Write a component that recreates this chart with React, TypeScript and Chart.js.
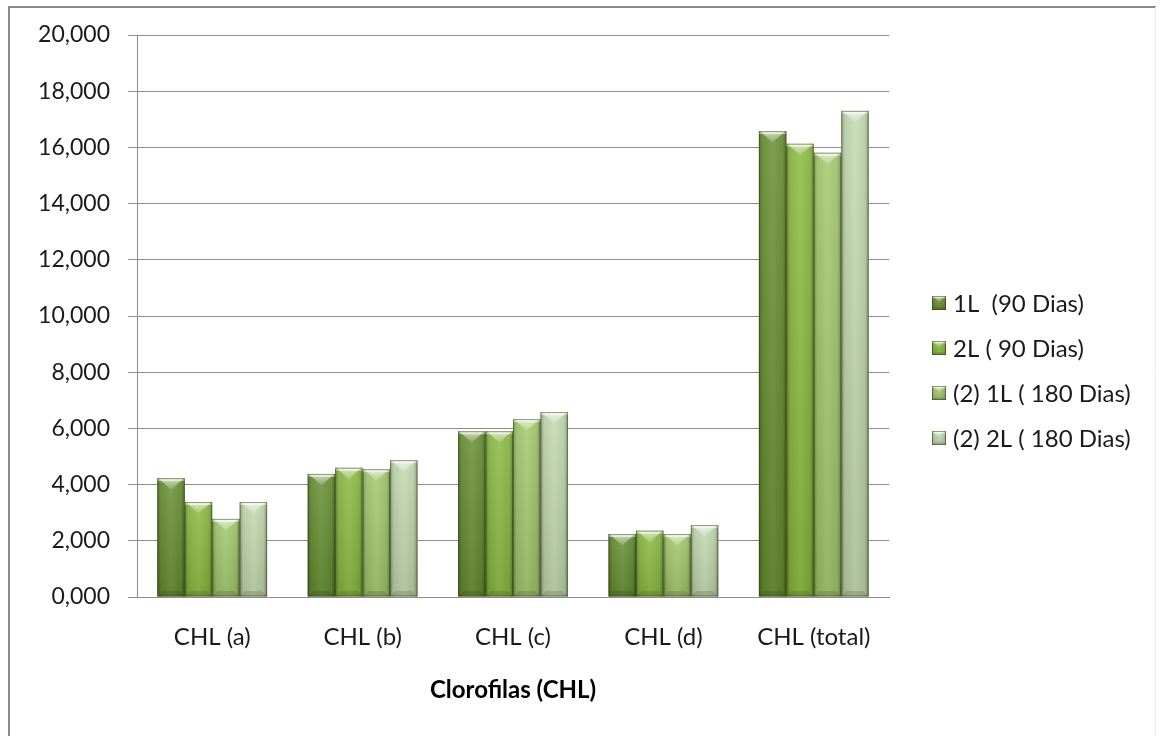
import React, { useEffect, useRef } from "react";
import { Chart, registerables } from "chart.js";

Chart.register(...registerables);

const categories = ["CHL (a)", "CHL (b)", "CHL (c)", "CHL (d)", "CHL (total)"];
const series1L90 = [4.23, 4.38, 5.9, 2.24, 16.58];
const series2L90 = [3.38, 4.6, 5.9, 2.36, 16.13];
const series1L180 = [2.78, 4.55, 6.33, 2.24, 15.81];
const series2L180 = [3.38, 4.87, 6.58, 2.56, 17.3];
const seriesLabels = ["1L  (90 Dias)", "2L ( 90 Dias)", "(2) 1L ( 180 Dias)", "(2) 2L ( 180 Dias)"];
const seriesColors = ["#668f30", "#8aba40", "#a3c86c", "#c2d9ad"];
const tickLabels = ["0,000", "2,000", "4,000", "6,000", "8,000", "10,000", "12,000", "14,000", "16,000", "18,000", "20,000"];
const axisTitle = "Clorofilas (CHL)";

const FONT = "Lato, 'Open Sans', sans-serif";

function drawBevel(ctx: CanvasRenderingContext2D, l: number, t: number, w: number, h: number) {
  const r = l + w;
  const b = t + h;
  const x = l + w / 2;
  // side shading
  const g = ctx.createLinearGradient(l, 0, r, 0);
  g.addColorStop(0, "rgba(0,0,0,0.30)");
  g.addColorStop(0.14, "rgba(0,0,0,0.06)");
  g.addColorStop(0.5, "rgba(255,255,255,0.06)");
  g.addColorStop(0.86, "rgba(0,0,0,0.06)");
  g.addColorStop(1, "rgba(0,0,0,0.32)");
  ctx.fillStyle = g;
  ctx.fillRect(l, t, w, h);
  // vertical shading
  const vg = ctx.createLinearGradient(0, t, 0, b);
  vg.addColorStop(0, "rgba(255,255,255,0.10)");
  vg.addColorStop(1, "rgba(0,0,0,0.10)");
  ctx.fillStyle = vg;
  ctx.fillRect(l, t, w, h);
  // top band
  const band = Math.min(3, h / 6);
  ctx.fillStyle = "rgba(255,255,255,0.45)";
  ctx.fillRect(l, t, w, band);
  // top bevel chevron
  const bh = Math.min(w * 0.42, h / 2);
  const tg = ctx.createLinearGradient(0, t, 0, t + bh);
  tg.addColorStop(0, "rgba(255,255,255,0.85)");
  tg.addColorStop(0.35, "rgba(255,255,255,0.45)");
  tg.addColorStop(1, "rgba(255,255,255,0.12)");
  ctx.beginPath();
  ctx.moveTo(l + 1, t);
  ctx.lineTo(r - 1, t);
  ctx.lineTo(x, t + bh);
  ctx.closePath();
  ctx.fillStyle = tg;
  ctx.fill();
  // bottom bevel
  const bb = Math.min(w * 0.2, h / 4);
  ctx.beginPath();
  ctx.moveTo(l, b);
  ctx.lineTo(r, b);
  ctx.lineTo(r - bb, b - bb);
  ctx.lineTo(l + bb, b - bb);
  ctx.closePath();
  ctx.fillStyle = "rgba(0,0,0,0.12)";
  ctx.fill();
  // outline
  ctx.strokeStyle = "rgba(40,60,10,0.5)";
  ctx.lineWidth = 1;
  ctx.strokeRect(l + 0.5, t + 0.5, w - 1, h - 1);
}

const framePlugin = {
  id: "frame",
  beforeDraw(chart: any) {
    const ctx = chart.ctx as CanvasRenderingContext2D;
    ctx.save();
    ctx.fillStyle = "#ffffff";
    ctx.fillRect(0, 0, chart.width, chart.height);
    ctx.strokeStyle = "#8a8a8a";
    ctx.lineWidth = 2;
    ctx.beginPath();
    ctx.moveTo(9, chart.height);
    ctx.lineTo(9, 7);
    ctx.lineTo(1156, 7);
    ctx.stroke();
    ctx.strokeStyle = "#ececec";
    ctx.lineWidth = 1;
    ctx.beginPath();
    ctx.moveTo(1155.5, 7);
    ctx.lineTo(1155.5, chart.height);
    ctx.stroke();
    ctx.restore();
  },
};

const bevelPlugin = {
  id: "bevel",
  afterDatasetsDraw(chart: any) {
    const ctx = chart.ctx as CanvasRenderingContext2D;
    ctx.save();
    chart.data.datasets.forEach((_ds: any, di: number) => {
      const meta = chart.getDatasetMeta(di);
      meta.data.forEach((bar: any) => {
        const p = bar.getProps(["x", "y", "base", "width"], true);
        drawBevel(ctx, p.x - p.width / 2, p.y, p.width, p.base - p.y);
      });
    });
    ctx.restore();
  },
};

const legendPlugin = {
  id: "customLegend",
  afterDraw(chart: any) {
    const ctx = chart.ctx as CanvasRenderingContext2D;
    ctx.save();
    const boxX = 932;
    const startY = 303;
    const step = 45;
    chart.data.datasets.forEach((ds: any, i: number) => {
      const cy = startY + i * step;
      ctx.fillStyle = ds.backgroundColor;
      ctx.fillRect(boxX, cy - 7, 14, 14);
      drawBevel(ctx, boxX, cy - 7, 14, 14);
      ctx.fillStyle = "#1a1a1a";
      ctx.font = `24px ${FONT}`;
      ctx.textAlign = "left";
      ctx.textBaseline = "middle";
      ctx.fillText(ds.label, boxX + 21, cy + 1);
    });
    ctx.restore();
  },
};

export default function App() {
  const ref = useRef<HTMLCanvasElement | null>(null);
  useEffect(() => {
    if (!ref.current) return;
    const datasets = [series1L90, series2L90, series1L180, series2L180].map((d, i) => ({
      label: seriesLabels[i],
      data: d,
      backgroundColor: seriesColors[i],
      borderWidth: 0,
      categoryPercentage: 0.73,
      barPercentage: 1.0,
    }));
    const chart = new Chart(ref.current, {
      type: "bar",
      data: { labels: categories, datasets },
      options: {
        responsive: false,
        animation: false,
        layout: { padding: { left: 0, right: 1161 - 889, top: 35, bottom: 0 } },
        plugins: {
          legend: { display: false },
          tooltip: { enabled: false },
        },
        scales: {
          x: {
            grid: { display: false, drawTicks: false },
            border: { display: true, color: "#8c8c8c", width: 1 },
            ticks: {
              color: "#1a1a1a",
              font: { family: FONT, size: 24 },
              padding: 26,
            },
            title: {
              display: true,
              text: axisTitle,
              color: "#000000",
              font: { family: FONT, size: 24, weight: "bold" },
              padding: { top: 0, bottom: 31 },
            },
            afterFit(scale: any) {
              scale.height = 736 - 597;
            },
          },
          y: {
            min: 0,
            max: 20,
            grid: { color: "#8c8c8c", lineWidth: 1, tickLength: 9, drawTicks: true },
            border: { display: true, color: "#8c8c8c", width: 1 },
            ticks: {
              stepSize: 2,
              color: "#1a1a1a",
              font: { family: FONT, size: 23 },
              padding: 18,
              callback: (_v: any, i: number) => tickLabels[i],
            },
            afterFit(scale: any) {
              scale.width = 137;
            },
          },
        },
      },
      plugins: [framePlugin, bevelPlugin, legendPlugin],
    });
    return () => chart.destroy();
  }, []);
  return (
    <div style={{ position: "absolute", left: 0, top: 0, width: 1161, height: 736 }}>
      <canvas ref={ref} width={1161} height={736} style={{ display: "block" }} />
    </div>
  );
}
